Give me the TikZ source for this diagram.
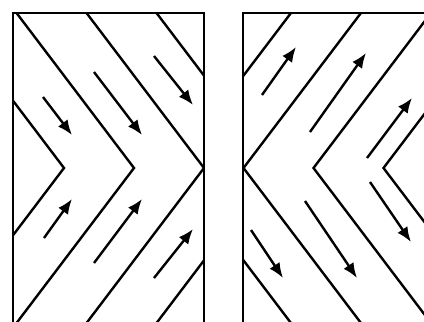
\documentclass[tikz,border=0pt]{standalone}
\usetikzlibrary{arrows.meta}
\begin{document}
\begin{tikzpicture}[x=1pt,y=-1pt,
  wall/.style={line width=2.8pt,line join=miter},
  groove/.style={line width=2.4pt,line join=miter},
  flow/.style={line width=2.4pt,-{Latex[length=15pt,width=12pt]}}]
\useasboundingbox (0,0) rectangle (424,322);
% left panel
\draw[wall] (13,340) -- (13,13) -- (204,13) -- (204,340);
\begin{scope}
  \clip (13,13) rectangle (204,340);
  \foreach \a in {64,134,204,274}
    \draw[groove] (\a-127.3,0) -- (\a,168) -- (\a-127.3,336);
\end{scope}
\draw[flow] (43,97) -- (72,135);
\draw[flow] (94,72) -- (142,135);
\draw[flow] (154,56) -- (193,105);
\draw[flow] (44,238) -- (72,199);
\draw[flow] (94,263) -- (142,199);
\draw[flow] (154,278) -- (193,229);
% right panel
\draw[wall] (243,340) -- (243,13) -- (440,13);
\begin{scope}
  \clip (243,13) rectangle (440,340);
  \foreach \a in {173.5,243.5,313.5,383.5}
    \draw[groove] (\a+127.3,0) -- (\a,168) -- (\a+127.3,336);
\end{scope}
\draw[flow] (262,95) -- (296,47);
\draw[flow] (310,132) -- (366,53);
\draw[flow] (367,158) -- (412,98);
\draw[flow] (251,230) -- (283,278);
\draw[flow] (305,201) -- (357,278);
\draw[flow] (370,182) -- (411,242);
\end{tikzpicture}
\end{document}
